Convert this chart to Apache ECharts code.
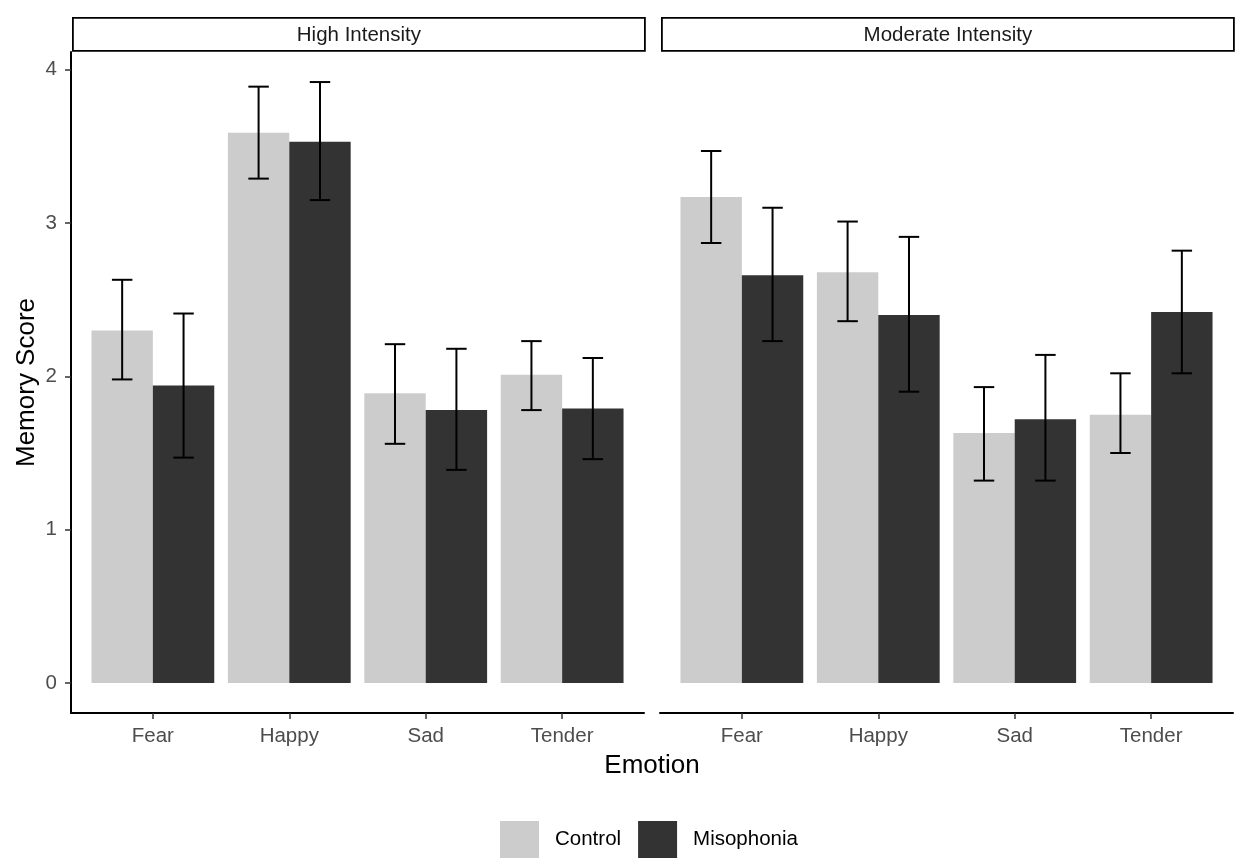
<!DOCTYPE html>
<html>
<head>
<meta charset="utf-8">
<script src="https://cdn.jsdelivr.net/npm/echarts@6/dist/echarts.min.js"></script>
<style>
html, body { margin: 0; padding: 0; background: #fff; }
#main { width: 1238px; height: 859px; }
</style>
</head>
<body>
<div id="main"></div>
<script>
// data
var emotions = ['Fear', 'Happy', 'Sad', 'Tender'];
var yTicks = [0, 1, 2, 3, 4];
var panels = ['High Intensity', 'Moderate Intensity'];
var groups = ['Control', 'Misophonia'];

var highControl   = [2.30, 3.59, 1.89, 2.01];
var highControlLo = [1.98, 3.29, 1.56, 1.78];
var highControlHi = [2.63, 3.89, 2.21, 2.23];
var highMiso      = [1.94, 3.53, 1.78, 1.79];
var highMisoLo    = [1.47, 3.15, 1.39, 1.46];
var highMisoHi    = [2.41, 3.92, 2.18, 2.12];

var modControl    = [3.17, 2.68, 1.63, 1.75];
var modControlLo  = [2.87, 2.36, 1.32, 1.50];
var modControlHi  = [3.47, 3.01, 1.93, 2.02];
var modMiso       = [2.66, 2.40, 1.72, 2.42];
var modMisoLo     = [2.23, 1.90, 1.32, 2.02];
var modMisoHi     = [3.10, 2.91, 2.14, 2.82];

var colors = ['#CCCCCC', '#333333'];
var font = 'Liberation Sans, Arial, sans-serif';

// layout
var gridTop = 52, gridH = 661, panelW = 573;
var lefts = [71, 660];

function rows(v, lo, hi) {
    var out = [];
    for (var i = 0; i < v.length; i++) {
        out.push([i + 1, v[i], lo[i], hi[i]]);
    }
    return out;
}

function barItem(offset, color) {
    return function (params, api) {
        var x = api.value(0), v = api.value(1);
        var p0 = api.coord([x + offset, v]);
        var p1 = api.coord([x + offset + 0.45, 0]);
        return {
            type: 'rect',
            shape: {x: p0[0], y: p0[1], width: p1[0] - p0[0], height: p1[1] - p0[1]},
            style: {fill: color}
        };
    };
}

function errItem(offset) {
    return function (params, api) {
        var x = api.value(0) + offset + 0.225;
        var lo = api.value(2), hi = api.value(3);
        var a = api.coord([x, hi]), b = api.coord([x, lo]);
        var l = api.coord([x - 0.075, hi])[0], r = api.coord([x + 0.075, hi])[0];
        var st = {stroke: '#000', lineWidth: 2};
        return {
            type: 'group',
            children: [
                {type: 'line', shape: {x1: a[0], y1: a[1], x2: b[0], y2: b[1]}, style: st},
                {type: 'line', shape: {x1: l, y1: a[1], x2: r, y2: a[1]}, style: st},
                {type: 'line', shape: {x1: l, y1: b[1], x2: r, y2: b[1]}, style: st}
            ]
        };
    };
}

var panelData = [
    [rows(highControl, highControlLo, highControlHi), rows(highMiso, highMisoLo, highMisoHi)],
    [rows(modControl, modControlLo, modControlHi), rows(modMiso, modMisoLo, modMisoHi)]
];

var grids = [], xAxes = [], yAxes = [], series = [], graphics = [];
for (var p = 0; p < 2; p++) {
    grids.push({left: lefts[p], top: gridTop, width: panelW, height: gridH});
    xAxes.push({
        type: 'value', gridIndex: p, min: 0.4, max: 4.6,
        axisLine: {show: true, onZero: false, lineStyle: {color: '#000', width: 2}},
        axisTick: {show: true, customValues: [1, 2, 3, 4], length: 6, lineStyle: {color: '#333', width: 1.5}},
        axisLabel: {
            customValues: [1, 2, 3, 4], margin: 13, fontSize: 20.5, color: '#4D4D4D', fontFamily: font,
            formatter: function (v) { return emotions[v - 1]; }
        },
        splitLine: {show: false}
    });
    yAxes.push({
        type: 'value', gridIndex: p, min: -0.196, max: 4.116,
        show: p === 0,
        name: p === 0 ? 'Memory Score' : '',
        nameLocation: 'middle', nameGap: 31,
        nameTextStyle: {fontSize: 26, color: '#000', fontFamily: font},
        axisLine: {show: true, onZero: false, lineStyle: {color: '#000', width: 2}},
        axisTick: {show: true, customValues: yTicks, length: 6, lineStyle: {color: '#333', width: 1.5}},
        axisLabel: {customValues: yTicks, margin: 14, fontSize: 20.5, color: '#4D4D4D', fontFamily: font},
        splitLine: {show: false}
    });
    for (var g = 0; g < 2; g++) {
        var off = g === 0 ? -0.45 : 0;
        series.push({
            type: 'custom', name: groups[g], xAxisIndex: p, yAxisIndex: p,
            itemStyle: {color: colors[g]},
            renderItem: barItem(off, colors[g]),
            encode: {x: 0, y: 1},
            data: panelData[p][g], z: 2
        });
        series.push({
            type: 'custom', name: groups[g] + ' CI', xAxisIndex: p, yAxisIndex: p,
            renderItem: errItem(off),
            encode: {x: 0, y: [2, 3]},
            data: panelData[p][g], z: 3
        });
    }
    // facet strip
    graphics.push({
        type: 'group', left: lefts[p] + 1, top: 17,
        children: [
            {type: 'rect', shape: {x: 0, y: 0, width: panelW - 1, height: 33},
             style: {fill: '#fff', stroke: '#000', lineWidth: 1.8}},
            {type: 'text', x: (panelW - 1) / 2, y: 17,
             style: {text: panels[p], fill: '#1A1A1A', fontSize: 20.5, fontFamily: font,
                     align: 'center', verticalAlign: 'middle'}}
        ]
    });
}

graphics.push({
    type: 'text', x: (lefts[0] + lefts[1] + panelW) / 2, y: 766,
    style: {text: 'Emotion', fill: '#000', fontSize: 26, fontFamily: font,
            align: 'center', verticalAlign: 'middle'}
});

var myChart = echarts.init(document.getElementById('main'), null, {renderer: 'canvas'});
option = {
    animation: false,
    backgroundColor: '#fff',
    textStyle: {fontFamily: font},
    grid: grids,
    xAxis: xAxes,
    yAxis: yAxes,
    legend: {
        data: [
            {name: 'Control', itemStyle: {color: colors[0]}},
            {name: 'Misophonia', itemStyle: {color: colors[1]}}
        ],
        icon: 'rect',
        left: 495, top: 816,
        itemWidth: 39, itemHeight: 37, itemGap: 17,
        textStyle: {fontSize: 20.5, color: '#000', fontFamily: font, padding: [0, 0, 0, 11]}
    },
    graphic: graphics,
    series: series
};
myChart.setOption(option);
</script>
</body>
</html>
